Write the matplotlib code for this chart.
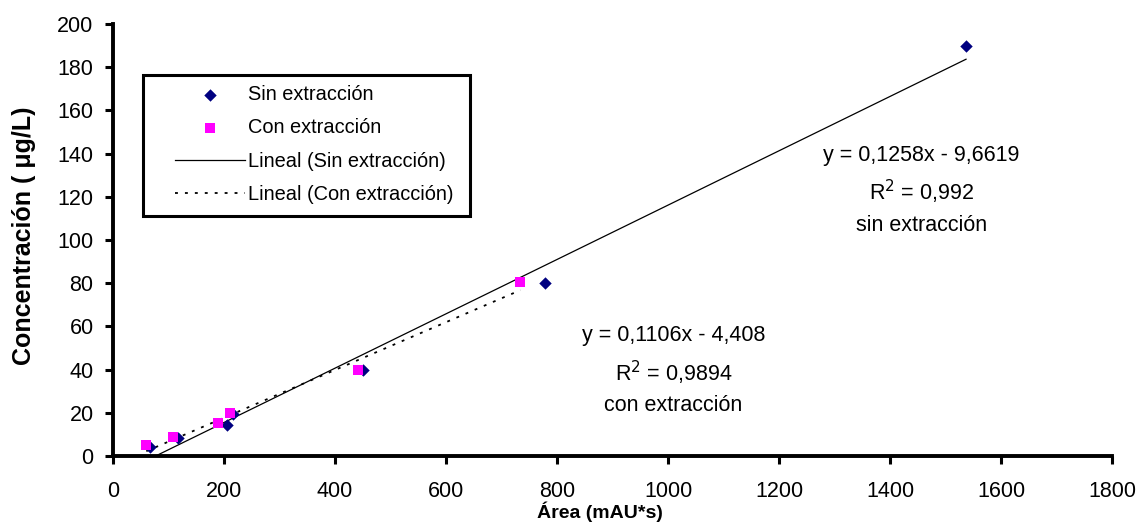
import matplotlib
matplotlib.use("Agg")
import matplotlib.pyplot as plt
from matplotlib.patches import Rectangle
import numpy as np

plt.rcParams['font.family'] = ['Liberation Sans', 'DejaVu Sans']

# Data
sin_x = [67, 117, 205, 216, 451, 779, 1537]
sin_y = [4, 8.5, 14.5, 19.5, 40, 80, 190]
con_x = [60, 108, 189, 211, 442, 734]
con_y = [5, 9, 15.5, 20, 40, 80.5]
sin_fit = (0.1258, -9.6619)
con_fit = (0.1106, -4.408)
xticks = [0, 200, 400, 600, 800, 1000, 1200, 1400, 1600, 1800]
yticks = [0, 20, 40, 60, 80, 100, 120, 140, 160, 180, 200]

W, H = 1142, 526
fig = plt.figure(figsize=(W/100, H/100), dpi=100)
ax = fig.add_axes([113/W, 1-456/H, (1112-113)/W, (456-24)/H])

ax.scatter(sin_x, sin_y, marker='D', s=40, color='#000080', label='Sin extracción', zorder=3, linewidths=0)
ax.scatter(con_x, con_y, marker='s', s=62, color='#FF00FF', label='Con extracción', zorder=3, linewidths=0)

xs = np.array([min(sin_x), max(sin_x)])
ax.plot(xs, sin_fit[0]*xs + sin_fit[1], color='black', lw=0.9, label='Lineal (Sin extracción)', zorder=2)
xc = np.array([min(con_x), max(con_x)])
ax.plot(xc, con_fit[0]*xc + con_fit[1], color='black', lw=1.3, ls=(0, (1.6, 3.9)),
        label='Lineal (Con extracción)', zorder=2)

ax.set_xlim(0, 1800)
ax.set_ylim(0, 200)
ax.set_xticks(xticks)
ax.set_yticks(yticks)
ax.tick_params(axis='both', labelsize=15.5, width=2.2, length=6, direction='out')
ax.tick_params(axis='y', pad=8)
ax.tick_params(axis='x', pad=12)
for s in ['top', 'right']:
    ax.spines[s].set_visible(False)
for s in ['left', 'bottom']:
    ax.spines[s].set_linewidth(2.8)

ax.set_xlabel('Área (mAU*s)', fontsize=14, fontweight='bold')
ax.xaxis.set_label_coords(0.4875, -0.106)
ax.set_ylabel('Concentración ( μg/L)', fontsize=18, fontweight='bold')
ax.yaxis.set_label_coords(-0.077, 0.509)

ax.text(1457, 123, 'y = 0,1258x - 9,6619\nR$^2$ = 0,992\nsin extracción', ha='center', va='center',
        fontsize=15.5, linespacing=1.55)
ax.text(1010, 39.5, 'y = 0,1106x - 4,408\nR$^2$ = 0,9894\ncon extracción', ha='center', va='center',
        fontsize=15.5, linespacing=1.55)

leg = ax.legend(loc='upper left', bbox_to_anchor=((175-113)/999, (456-85)/432), fontsize=14.4,
                frameon=False, handlelength=3.5, borderpad=0, labelspacing=0.72,
                handletextpad=0.15, borderaxespad=0)
fig.patches.append(Rectangle((143/W, 1-216/H), (470-143)/W, (216-75)/H, transform=fig.transFigure,
                             fill=False, edgecolor='black', linewidth=2.2, zorder=5))

fig.savefig('out.png', dpi=100)
